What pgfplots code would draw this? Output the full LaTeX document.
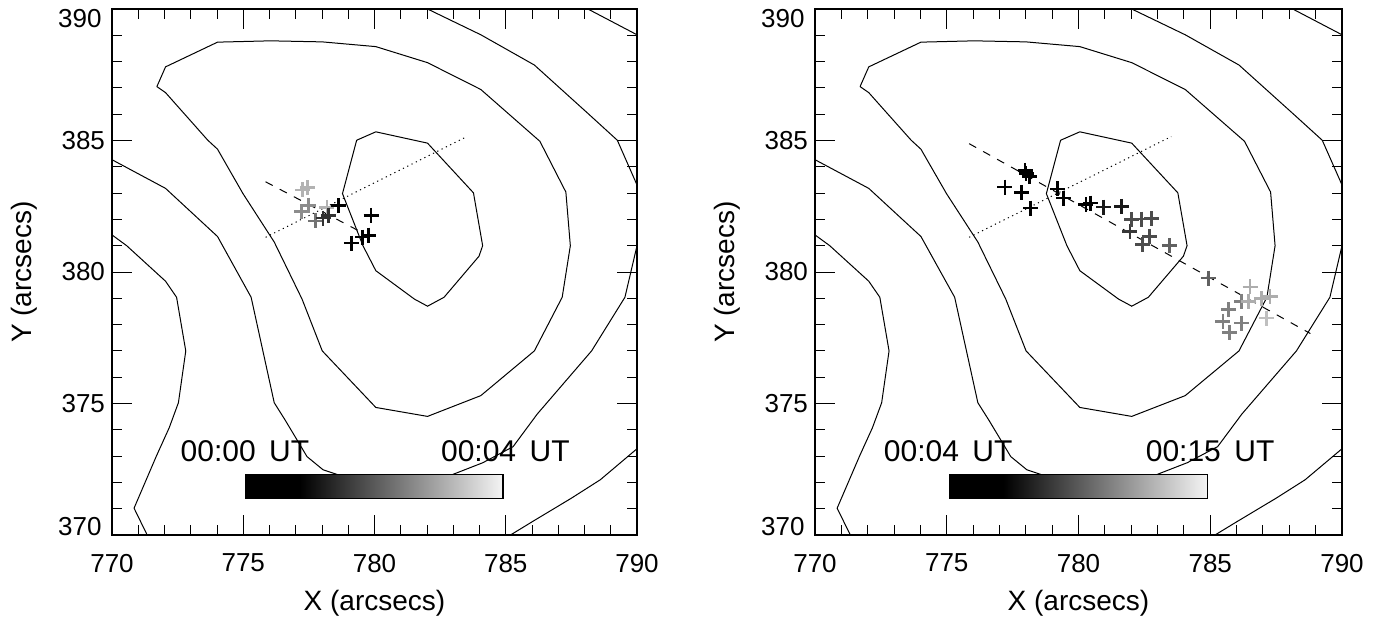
\documentclass[border=0pt]{standalone}
\usepackage{fontspec}
\setmainfont{Liberation Sans}
\usepackage{pgfplots}
\pgfplotsset{compat=1.18}
\usepackage{pgfplotstable}

% contour polylines (shared by both panels)
\pgfplotstableread{
x y
779.32 385.01
780.05 385.33
782.02 384.90
783.77 383.01
784.12 381.00
783.98 380.60
782.65 379.04
782.02 378.70
781.52 378.97
780.05 380.05
779.56 381.00
778.78 382.98
779.32 385.01
}\cA
\pgfplotstableread{
x y
771.71 387.05
772.04 387.80
774.02 388.74
776.04 388.79
778.01 388.75
780.05 388.57
782.02 387.96
784.05 386.94
786.30 384.97
787.29 383.04
787.46 381.00
787.15 379.04
786.09 377.00
784.05 375.30
782.02 374.51
780.05 374.85
778.01 377.00
777.24 378.97
776.18 381.14
774.99 382.98
774.02 384.67
773.65 385.01
772.04 386.82
771.71 387.05
}\cB
\pgfplotstableread{
x y
769.90 384.32
770.00 384.27
772.04 383.18
774.02 381.35
775.30 379.04
776.18 375.03
776.59 374.38
777.43 372.98
778.04 372.48
778.61 372.29
780.50 371.90
782.95 372.29
784.13 372.75
785.28 373.36
786.20 374.60
788.27 377.00
789.54 379.04
790.00 381.00
790.30 382.20
790.00 383.31
789.25 385.01
788.13 386.03
786.09 387.87
784.05 389.02
782.02 390.00
781.90 390.10
}\cC
\pgfplotstableread{
x y
769.90 381.50
770.00 381.41
770.56 381.00
772.04 379.65
772.46 379.04
772.81 377.00
772.53 375.03
772.18 374.08
771.69 373.00
770.84 371.02
771.34 370.00
771.40 369.90
}\cDa
\pgfplotstableread{
x y
788.00 390.07
788.13 390.00
790.00 389.02
790.10 388.97
}\cDb
\pgfplotstableread{
x y
785.10 369.95
785.18 370.00
786.00 370.50
787.50 371.40
788.60 372.10
790.00 373.28
790.10 373.35
}\cDc

\pgfplotsset{
 myaxis/.style={
  scale only axis, width=262.5pt, height=263pt,
  xmin=770,xmax=790,ymin=370,ymax=390,
  clip mode=individual,
  xtick={770,775,...,790}, ytick={370,375,...,390},
  yticklabels={,375,380,385,},
  minor x tick num=4, minor y tick num=4,
  tick align=inside,
  major tick length=10pt, minor tick length=5pt,
  every tick/.style={black,line width=0.5pt},
  axis line style={line width=0.7pt},
  tick label style={font=\fontsize{13}{13}\selectfont},
  /pgf/number format/assume math mode=true,
  /pgf/number format/set thousands separator={},
  xticklabel style={yshift=-6pt},
  xlabel={X (arcsecs)}, ylabel={Y (arcsecs)},
  label style={font=\fontsize{14}{14}\selectfont},
  xlabel style={at={(axis description cs:0.5,-0.129)},anchor=center},
  ylabel style={at={(axis description cs:-0.167,0.5)},anchor=center},
 },
 cont/.style={black, line width=0.5pt, no marks},
 crs/.style={only marks, mark=+, mark size=3.75pt, color=#1, mark options={line width=1.35pt}},
}

\newcommand{\contours}{%
  \addplot[cont] table {\cA};
  \addplot[cont] table {\cB};
  \addplot[cont] table {\cC};
  \addplot[cont] table {\cDa};
  \addplot[cont] table {\cDb};
  \addplot[cont] table {\cDc};
  \addplot[black, line width=0.5pt, dash pattern=on 0.6pt off 1.8pt] coordinates {(775.85,381.32) (783.52,385.15)};
}
\newcommand{\colbar}[2]{%
  \fill[black] (axis cs:775.1,371.38) rectangle (axis cs:777.16,372.29);
  \shade[left color=black,right color=white!96!black] (axis cs:777.15,371.38) rectangle (axis cs:784.9,372.29);
  \draw[line width=0.7pt] (axis cs:775.1,371.38) rectangle (axis cs:784.9,372.29);
  \node[anchor=west,inner sep=0pt,font=\fontsize{15}{15}\selectfont] at (axis cs:772.6,373.2) {#1\hspace{0.45em}UT};
  \node[anchor=east,inner sep=0pt,font=\fontsize{15}{15}\selectfont] at (axis cs:787.45,373.2) {#2\hspace{0.45em}UT};
  \node[anchor=east,inner sep=0pt,font=\fontsize{13}{13}\selectfont] at (rel axis cs:0,1) [xshift=-5pt,yshift=-4.8pt] {390};
  \node[anchor=east,inner sep=0pt,font=\fontsize{13}{13}\selectfont] at (rel axis cs:0,0) [xshift=-5pt,yshift=4pt] {370};
}

\begin{document}
\begin{tikzpicture}
\useasboundingbox (0,0) rectangle (690pt,309pt);

\begin{axis}[myaxis, at={(56pt,41.5pt)}, anchor=south west]
  \contours
  \addplot[black, line width=0.5pt, dash pattern=on 4pt off 4pt] coordinates {(775.85,383.43) (779.45,381.54)};
  \addplot[crs=black!30] coordinates {(777.25,383.12) (777.44,383.20) (778.19,382.46)};
  \addplot[crs=black!45] coordinates {(777.49,382.53) (777.23,382.30)};
  \addplot[crs=black!55] coordinates {(777.75,381.94)};
  \addplot[crs=black!80] coordinates {(778.04,382.05) (778.24,382.15)};
  \addplot[crs=black] coordinates {(778.62,382.52) (779.87,382.15) (779.77,381.40) (779.55,381.33) (779.12,381.10)};
  \colbar{00:00}{00:04}
\end{axis}

\begin{axis}[myaxis, at={(407.5pt,41.5pt)}, anchor=south west, width=263.5pt]
  \contours
  \addplot[black, line width=0.5pt, dash pattern=on 4pt off 4pt] coordinates {(775.85,384.88) (788.80,377.66)};
  \addplot[crs=black] coordinates {(777.97,383.86) (778.01,383.74) (778.13,383.64) (777.21,383.23) (777.84,383.03) (778.18,382.43) (779.20,383.16) (779.43,382.81) (780.28,382.56) (780.46,382.62)};
  \addplot[crs=black!90] coordinates {(780.94,382.47) (781.64,382.50)};
  \addplot[crs=black!78] coordinates {(781.95,381.54)};
  \addplot[crs=black!70] coordinates {(782.02,381.99) (782.40,382.01) (782.78,382.03) (782.69,381.35) (782.44,381.04)};
  \addplot[crs=black!62] coordinates {(783.45,381.00) (784.93,379.77)};
  \addplot[crs=black!50] coordinates {(785.69,378.57) (785.48,378.12) (786.19,378.06) (785.73,377.70) (786.19,378.88)};
  \addplot[crs=black!32] coordinates {(786.51,379.43) (786.95,378.99) (787.27,379.07) (786.44,378.88)};
  \addplot[crs=black!25] coordinates {(787.14,378.25)};
  \colbar{00:04}{00:15}
\end{axis}
\end{tikzpicture}
\end{document}
